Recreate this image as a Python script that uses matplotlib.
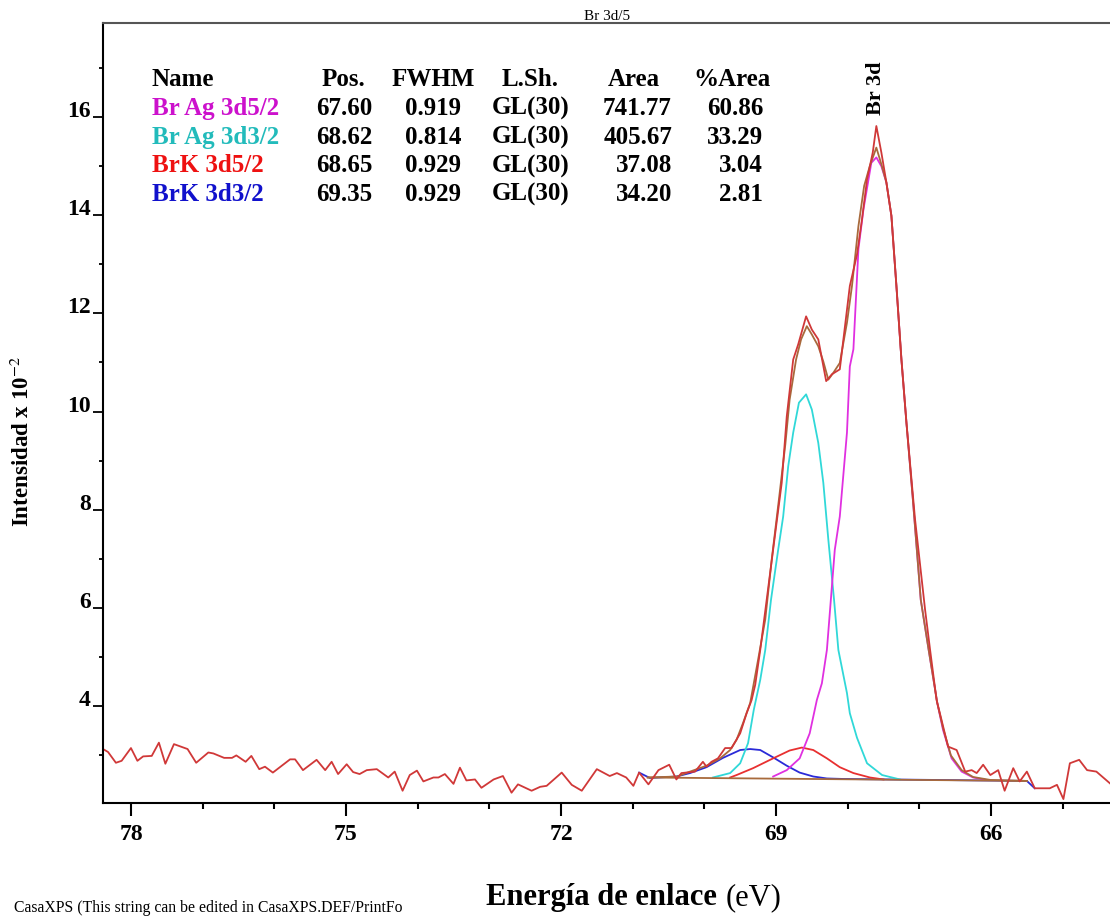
import matplotlib.pyplot as plt
from matplotlib.ticker import MultipleLocator

# raw spectrum (binding energy eV, intensity x 10^-2)
raw_e = [78.39, 78.32, 78.21, 78.13, 78.00, 77.91, 77.83, 77.71, 77.61, 77.52,
         77.40, 77.21, 77.09, 76.92, 76.85, 76.70, 76.59, 76.53, 76.40, 76.32,
         76.21, 76.13, 76.02, 75.78, 75.71, 75.60, 75.41, 75.29, 75.20, 75.11,
         74.99, 74.90, 74.81, 74.71, 74.57, 74.41, 74.32, 74.21, 74.11, 74.01,
         73.92, 73.78, 73.71, 73.62, 73.50, 73.41, 73.32, 73.20, 73.11, 72.94,
         72.81, 72.69, 72.60, 72.41, 72.29, 72.20, 71.99, 71.85, 71.71, 71.50,
         71.32, 71.22, 71.09, 70.99, 70.91, 70.78, 70.64, 70.49, 70.39, 70.32,
         70.13, 70.02, 69.97, 69.90, 69.81, 69.71, 69.62, 69.50, 69.41, 69.34,
         69.29, 69.22, 69.04, 68.92, 68.85, 68.76, 68.69, 68.58, 68.50, 68.41,
         68.30, 68.22, 68.11, 68.04, 67.97, 67.87, 67.80, 67.73, 67.65, 67.60,
         67.53, 67.46, 67.39, 67.32, 67.25, 67.18, 67.06, 66.92, 66.85, 66.76,
         66.69, 66.60, 66.48, 66.36, 66.27, 66.20, 66.11, 66.01, 65.90, 65.81,
         65.69, 65.60, 65.50, 65.39, 65.18, 65.08, 64.99, 64.90, 64.77, 64.66,
         64.53, 64.34]
raw_i = [3.12, 3.06, 2.84, 2.88, 3.14, 2.88, 2.97, 2.98, 3.25, 2.82,
         3.22, 3.12, 2.84, 3.05, 3.03, 2.94, 2.94, 2.99, 2.86, 2.98,
         2.71, 2.76, 2.64, 2.91, 2.91, 2.69, 2.90, 2.69, 2.86, 2.61,
         2.81, 2.65, 2.61, 2.69, 2.71, 2.54, 2.66, 2.27, 2.59, 2.68,
         2.46, 2.54, 2.54, 2.61, 2.41, 2.74, 2.48, 2.50, 2.33, 2.50,
         2.57, 2.23, 2.40, 2.27, 2.35, 2.37, 2.64, 2.39, 2.27, 2.71,
         2.57, 2.63, 2.54, 2.37, 2.64, 2.40, 2.69, 2.80, 2.50, 2.63,
         2.66, 2.86, 2.76, 2.86, 2.93, 3.14, 3.14, 3.44, 3.85, 4.12,
         4.43, 5.14, 7.18, 8.55, 9.90, 11.06, 11.37, 11.94, 11.67, 11.47,
         10.62, 10.76, 10.86, 11.71, 12.56, 13.20, 13.92, 14.73, 15.28, 15.82,
         15.28, 14.67, 13.99, 12.56, 11.06, 9.77, 7.80, 5.96, 5.14, 4.12,
         3.71, 3.17, 3.10, 2.66, 2.69, 2.63, 2.80, 2.59, 2.69, 2.27,
         2.73, 2.46, 2.66, 2.32, 2.32, 2.39, 2.10, 2.83, 2.90, 2.69,
         2.66, 2.42]

# fit envelope
env_e = [70.79, 70.38, 70.20, 69.97, 69.78, 69.64, 69.55, 69.46, 69.36, 69.25,
         69.15, 69.06, 68.96, 68.87, 68.81, 68.72, 68.65, 68.57, 68.50, 68.41,
         68.34, 68.27, 68.20, 68.11, 68.01, 67.94, 67.85, 67.77, 67.69, 67.60,
         67.53, 67.46, 67.39, 67.32, 67.25, 67.18, 67.09, 66.98, 66.87, 66.75,
         66.67, 66.56, 66.41, 66.25, 66.01, 65.50]
env_i = [2.54, 2.56, 2.66, 2.78, 2.93, 3.10, 3.31, 3.65, 4.06, 4.94,
         5.76, 6.98, 8.20, 9.33, 10.24, 11.06, 11.47, 11.74, 11.57, 11.33,
         11.02, 10.65, 10.79, 10.99, 11.81, 12.56, 13.78, 14.60, 15.01, 15.38,
         15.04, 14.67, 13.99, 12.56, 11.06, 9.77, 8.20, 6.16, 5.14, 4.06,
         3.55, 2.99, 2.69, 2.55, 2.49, 2.47]

# background
bg_e = [70.79, 65.50]
bg_i = [2.54, 2.47]

# Br Ag 3d5/2
ag52_e = [69.04, 68.85, 68.67, 68.53, 68.43, 68.36, 68.29, 68.18, 68.11, 68.01,
          67.97, 67.92, 67.85, 67.78, 67.67, 67.60, 67.53, 67.46, 67.39, 67.32,
          67.25, 67.18, 67.09, 66.98, 66.87, 66.75, 66.67, 66.55, 66.41, 66.25,
          66.06]
ag52_i = [2.56, 2.69, 2.93, 3.44, 4.12, 4.46, 5.14, 7.18, 7.86, 9.57,
          10.92, 11.27, 13.31, 14.12, 15.07, 15.18, 15.00, 14.67, 13.99, 12.56,
          11.06, 9.77, 8.20, 6.16, 5.14, 4.06, 3.51, 2.93, 2.66, 2.54,
          2.49]

# Br Ag 3d3/2
ag32_e = [69.88, 69.64, 69.50, 69.39, 69.31, 69.22, 69.15, 69.07, 68.97, 68.90,
          68.83, 68.76, 68.68, 68.58, 68.50, 68.41, 68.34, 68.27, 68.19, 68.13,
          68.01, 67.97, 67.87, 67.73, 67.52, 67.27]
ag32_i = [2.54, 2.63, 2.83, 3.24, 3.92, 4.53, 5.14, 6.16, 7.18, 7.86,
          8.88, 9.57, 10.18, 10.35, 10.04, 9.36, 8.55, 7.39, 6.16, 5.14,
          4.26, 3.85, 3.35, 2.83, 2.59, 2.50]

# BrK 3d5/2
k52_e = [69.64, 69.55, 69.32, 69.04, 68.81, 68.64, 68.48, 68.29, 68.11, 67.92,
         67.69, 67.50]
k52_i = [2.54, 2.59, 2.73, 2.93, 3.09, 3.15, 3.10, 2.93, 2.75, 2.63,
         2.54, 2.50]

# BrK 3d3/2
k32_e = [70.91, 70.76, 70.39, 70.20, 69.97, 69.74, 69.50, 69.36, 69.22, 69.04,
         68.85, 68.67, 68.48, 68.29, 68.06, 65.50, 65.39]
k32_i = [2.64, 2.53, 2.56, 2.63, 2.75, 2.94, 3.10, 3.12, 3.10, 2.95,
         2.78, 2.64, 2.56, 2.52, 2.51, 2.47, 2.32]

# peak table
names = ["Br Ag 3d5/2", "Br Ag 3d3/2", "BrK 3d5/2", "BrK 3d3/2"]
name_colors = ["#cc11cc", "#22bbbb", "#ee1111", "#1111cc"]
pos = ["67.60", "68.62", "68.65", "69.35"]
fwhm = ["0.919", "0.814", "0.929", "0.929"]
lsh = ["GL(30)", "GL(30)", "GL(30)", "GL(30)"]
area = ["741.77", "405.67", "37.08", "34.20"]
pct_area = ["60.86", "33.29", "3.04", "2.81"]

W, H = 1110, 917
SERIF = ["Liberation Serif", "DejaVu Serif"]
plt.rcParams["font.family"] = SERIF
plt.rcParams["mathtext.fontset"] = "stix"


def px(x, y):
    return x / W, 1 - y / H


fig = plt.figure(figsize=(W / 100, H / 100), dpi=100)
ax = fig.add_axes([103 / W, 1 - 803 / H, 1 - 103 / W, 780 / H])

lw = 1.3
ax.plot(k32_e, k32_i, color="#2a2ad8", lw=lw)
ax.plot(k52_e, k52_i, color="#e83030", lw=lw)
ax.plot(ag32_e, ag32_i, color="#30d8d8", lw=lw)
ax.plot(ag52_e, ag52_i, color="#e030e0", lw=lw)
ax.plot(bg_e, bg_i, color="#a86a3c", lw=lw)
ax.plot(env_e, env_i, color="#a86a3c", lw=lw)
ax.plot(raw_e, raw_i, color="#d03838", lw=lw)

ax.set_xlim(78.39, 64.34)
ax.set_ylim(2.02, 17.92)

ax.xaxis.set_major_locator(MultipleLocator(3))
ax.xaxis.set_minor_locator(MultipleLocator(1))
ax.yaxis.set_major_locator(MultipleLocator(2))
ax.yaxis.set_minor_locator(MultipleLocator(1))
ax.set_yticks([4, 6, 8, 10, 12, 14, 16])

ax.spines["right"].set_visible(False)
ax.spines["top"].set_color("#555555")
for s in ["left", "bottom", "top"]:
    ax.spines[s].set_linewidth(1.5)

ax.tick_params(axis="x", which="major", direction="out", length=9, width=1.5, pad=6)
ax.tick_params(axis="x", which="minor", direction="out", length=4.5, width=1.5)
ax.tick_params(axis="y", which="major", direction="out", length=7, width=1.3, pad=2)
ax.tick_params(axis="y", which="minor", direction="out", length=3, width=1.3)
for lab in ax.get_xticklabels() + ax.get_yticklabels():
    lab.set_fontsize(17)
    lab.set_fontweight("bold")
for lab in ax.get_yticklabels():
    lab.set_verticalalignment("baseline")

# annotation on main peak
ax.text(67.60, 16.05, "Br 3d", rotation=90, ha="center", va="bottom",
        fontsize=16, fontweight="bold")

# title and footer
fig.text(*px(607, 16), "Br 3d/5", ha="center", va="center", fontsize=11)
fig.text(*px(14, 908), "CasaXPS (This string can be edited in CasaXPS.DEF/PrintFo",
         ha="left", va="center", fontsize=11.3)

# axis labels
fig.text(*px(717, 905), "Energía de enlace", ha="right", va="baseline",
         fontsize=22, fontweight="bold")
fig.text(*px(726, 905), "(eV)", ha="left", va="baseline", fontsize=22)
fig.text(*px(22, 442), r"Intensidad x 10$^{-2}$", rotation=90, ha="center",
         va="center", fontsize=16.5, fontweight="bold")

# peak table
tsize = 18
base = [86, 115, 144, 172.5, 201]
fig.text(*px(152, base[0]), "Name", ha="left", va="baseline", fontsize=tsize, fontweight="bold")
fig.text(*px(343, base[0]), "Pos.", ha="center", va="baseline", fontsize=tsize, fontweight="bold")
fig.text(*px(433, base[0]), "FWHM", ha="center", va="baseline", fontsize=tsize, fontweight="bold")
fig.text(*px(530, base[0]), "L.Sh.", ha="center", va="baseline", fontsize=tsize, fontweight="bold")
fig.text(*px(634, base[0]), "Area", ha="center", va="baseline", fontsize=tsize, fontweight="bold")
fig.text(*px(732, base[0]), "%Area", ha="center", va="baseline", fontsize=tsize, fontweight="bold")
for k in range(len(names)):
    y = base[k + 1]
    fig.text(*px(152, y), names[k], ha="left", va="baseline", fontsize=tsize,
             fontweight="bold", color=name_colors[k])
    fig.text(*px(344, y), pos[k], ha="center", va="baseline", fontsize=tsize, fontweight="bold")
    fig.text(*px(433, y), fwhm[k], ha="center", va="baseline", fontsize=tsize, fontweight="bold")
    fig.text(*px(531, y), lsh[k], ha="center", va="baseline", fontsize=tsize, fontweight="bold")
    fig.text(*px(672, y), area[k], ha="right", va="baseline", fontsize=tsize, fontweight="bold")
    fig.text(*px(763, y), pct_area[k], ha="right", va="baseline", fontsize=tsize, fontweight="bold")

fig.savefig("out.png", dpi=100)
